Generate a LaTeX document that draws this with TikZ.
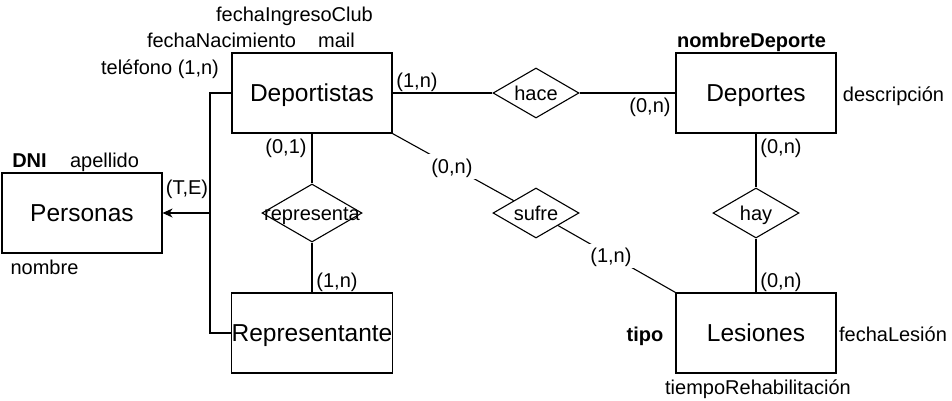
\documentclass[tikz,border=0pt]{standalone}
\usepackage{fontspec}
\setmainfont{Liberation Sans}
\usetikzlibrary{arrows.meta,shapes.geometric,positioning}
\newcommand{\chico}{\fontsize{20}{24}\selectfont}
\newcommand{\grande}{\fontsize{24.5}{28}\selectfont}

\begin{document}
\begin{tikzpicture}[x=1pt, y=-1pt, line width=1.1pt,
  entidad/.style={draw, rectangle, minimum width=160pt, minimum height=80pt, inner sep=0pt, font=\grande, text height=17.5pt, text depth=0pt},
  relacion/.style={draw, diamond, fill=white, minimum width=86pt, minimum height=50pt, inner sep=0pt,
    label={[font=\chico, text height=14.3pt, text depth=0pt, inner sep=0pt]center:#1}},
  atributo/.style={font=\chico, inner sep=0pt, text height=14.3pt, text depth=0pt},
  clave/.style={atributo, font=\chico\bfseries},
  cardlinea/.style={atributo, fill=white, inner xsep=4pt, inner ysep=5pt}]
\useasboundingbox (0,0) rectangle (952,400);
% entidades
\node[entidad] (personas) at (82,213) {Personas};
\node[entidad] (deportistas) at (312,93) {Deportistas};
\node[entidad] (representante) at (312,333) {Representante};
\node[entidad] (deportes) at (756,93) {Deportes};
\node[entidad] (lesiones) at (756,333) {Lesiones};
% relaciones
\node[relacion=hace] (hace) at (536,93) {};
\node[relacion=representa, minimum width=100pt, minimum height=58pt] (representa) at (312,213) {};
\node[relacion=sufre] (sufre) at (536,213) {};
\node[relacion=hay] (hay) at (756,213) {};
% conectores
\draw (deportistas) -- (hace) -- (deportes);
\draw (deportistas) -- (representa) -- (representante);
\draw (deportes) -- (hay) -- (lesiones);
\draw (deportistas.south east) -- node[cardlinea, pos=0.49] {(0,n)} (sufre);
\draw (sufre) -- node[cardlinea, pos=0.45] {(1,n)} (lesiones.north west);
\coordinate (isa) at (210,213);
\draw (deportistas.west) -| (isa) |- (representante.west);
\draw[-{Stealth[length=10pt,width=9pt,inset=3pt]}] (isa) -- (personas.east);
% cardinalidades
\node[atributo] (c1) at (417,80) {(1,n)};
\node[atributo] (c2) at (650,105) {(0,n)};
\node[atributo] (c3) at (286,146) {(0,1)};
\node[atributo] (c4) at (337,280) {(1,n)};
\node[atributo] (c5) at (781,146) {(0,n)};
\node[atributo] (c6) at (781,280) {(0,n)};
\node[atributo] (te) at (187,187) {(T,E)};
% atributos
\node[atributo] (ingreso) at (294.5,14) {fechaIngresoClub};
\node[atributo] (nacimiento) at (221.5,40) {fechaNacimiento};
\node[atributo] (mail) at (336.5,40) {mail};
\node[atributo] (telefono) at (160,67) {teléfono (1,n)};
\node[clave] (dni) at (29.5,160) {DNI};
\node[atributo] (apellido) at (104.5,160) {apellido};
\node[atributo] (nombre) at (44.5,267) {nombre};
\node[clave] (nombreDeporte) at (751.5,40) {nombreDeporte};
\node[atributo] (descripcion) at (893.5,94) {descripción};
\node[clave] (tipo) at (645,334) {tipo};
\node[atributo] (fechaLesion) at (893,334) {fechaLesión};
\node[atributo] (tiempo) at (758,387) {tiempoRehabilitación};
\end{tikzpicture}
\end{document}
